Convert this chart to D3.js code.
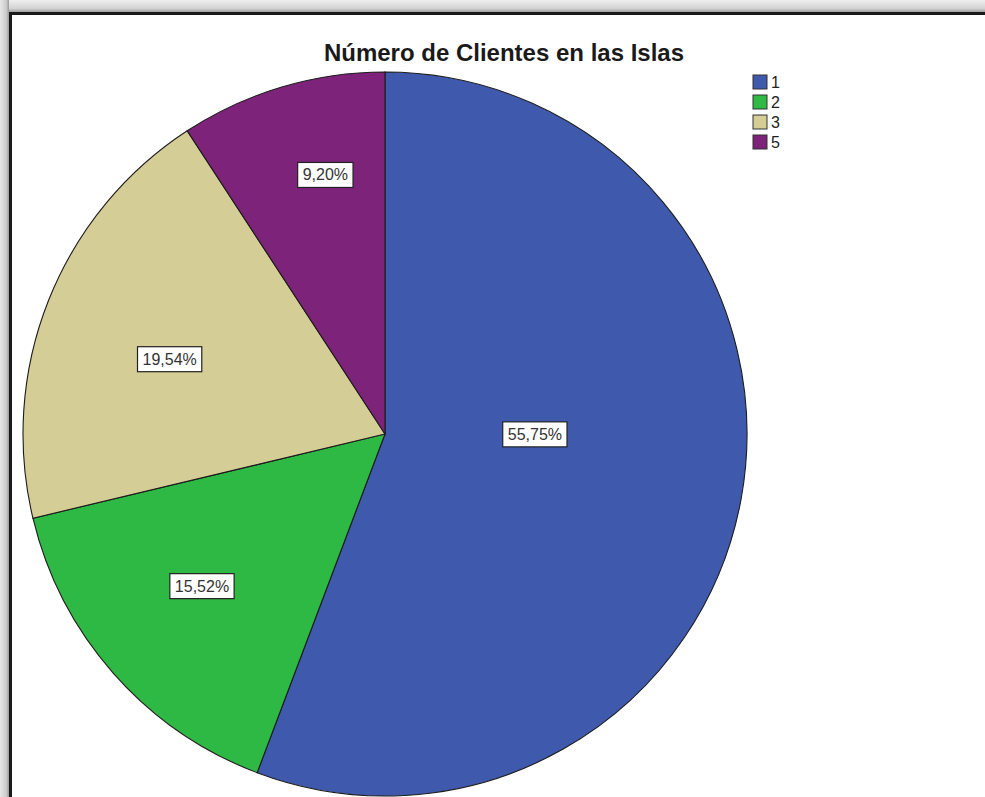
<!DOCTYPE html>
<html>
<head>
<meta charset="utf-8">
<script src="https://cdn.jsdelivr.net/npm/d3@7"></script>
<style>
  html, body { margin: 0; padding: 0; background: #ffffff; }
  svg { display: block; }
</style>
</head>
<body>
<svg id="chart" width="985" height="797"></svg>
<script>
// Share of clients by number of islands
const categories = ["1", "2", "3", "5"];
const percentages = [55.75, 15.52, 19.54, 9.20];
const sliceColors = ["#3f59ad", "#2eb844", "#d5cd96", "#7d237a"];
const chartTitle = "Número de Clientes en las Islas";

const W = 985, H = 797;
const cx = 385, cy = 434, R = 362;

// label placement inside each slice: [fraction of radius, angular shift in degrees]
const labelPlacement = [[0.414, -10.3], [0.657, 1.7], [0.63, -2.5], [0.735, 3.6]];

const svg = d3.select("#chart");
const defs = svg.append("defs");

// frame shadow
const gTop = defs.append("linearGradient").attr("id", "shTop")
  .attr("x1", 0).attr("y1", 0).attr("x2", 0).attr("y2", 1);
gTop.append("stop").attr("offset", "0%").attr("stop-color", "#efefef");
gTop.append("stop").attr("offset", "70%").attr("stop-color", "#d3d3d3");
gTop.append("stop").attr("offset", "100%").attr("stop-color", "#a0a0a0");
const gLeft = defs.append("linearGradient").attr("id", "shLeft")
  .attr("x1", 0).attr("y1", 0).attr("x2", 1).attr("y2", 0);
gLeft.append("stop").attr("offset", "0%").attr("stop-color", "#e6e6e6");
gLeft.append("stop").attr("offset", "70%").attr("stop-color", "#cccccc");
gLeft.append("stop").attr("offset", "100%").attr("stop-color", "#9a9a9a");

svg.append("rect").attr("x", 0).attr("y", 0).attr("width", W).attr("height", 12).attr("fill", "url(#shTop)");
svg.append("rect").attr("x", 0).attr("y", 0).attr("width", 9).attr("height", H).attr("fill", "url(#shLeft)");
svg.append("path")
  .attr("d", `M10.5,${H} L10.5,13.5 L${W},13.5`)
  .attr("fill", "none").attr("stroke", "#1a1a1a").attr("stroke-width", 3);

// title
svg.append("text")
  .attr("x", 504).attr("y", 61)
  .attr("text-anchor", "middle")
  .attr("font-family", "Arial, 'Liberation Sans', sans-serif")
  .attr("font-weight", "bold").attr("font-size", 24)
  .attr("fill", "#1a1a1a")
  .text(chartTitle);

// pie
const pie = d3.pie().sort(null).value(d => d.value);
const arcs = pie(categories.map((c, i) => ({ cat: c, value: percentages[i], color: sliceColors[i] })));
const arc = d3.arc().innerRadius(0).outerRadius(R);

const g = svg.append("g").attr("transform", `translate(${cx},${cy})`);
g.selectAll("path.slice").data(arcs).join("path")
  .attr("class", "slice")
  .attr("d", arc)
  .attr("fill", d => d.data.color)
  .attr("stroke", "#1c1c1c").attr("stroke-width", 1.1);

// percentage labels
const locale = d3.formatLocale({ decimal: ",", thousands: ".", grouping: [3], currency: ["", "€"] });
const fmt = locale.format(".2f");

const labels = g.selectAll("g.lbl").data(arcs).join("g").attr("class", "lbl")
  .attr("transform", (d, i) => {
    const [f, shift] = labelPlacement[i];
    const a = (d.startAngle + d.endAngle) / 2 + shift * Math.PI / 180;
    return `translate(${R * f * Math.sin(a)},${-R * f * Math.cos(a)})`;
  });
labels.each(function (d) {
  const sel = d3.select(this);
  const rect = sel.append("rect").attr("fill", "#ffffff").attr("stroke", "#222").attr("stroke-width", 1.2);
  const t = sel.append("text")
    .attr("text-anchor", "middle").attr("dy", "0.36em")
    .attr("font-family", "Arial, 'Liberation Sans', sans-serif")
    .attr("font-size", 16).attr("fill", "#333")
    .text(fmt(d.data.value) + "%");
  const bb = t.node().getBBox();
  rect.attr("x", bb.x - 5).attr("y", bb.y - 4)
    .attr("width", bb.width + 10).attr("height", bb.height + 8);
});

// legend
const legend = svg.append("g").attr("transform", "translate(753,75)");
const items = legend.selectAll("g").data(categories).join("g")
  .attr("transform", (d, i) => `translate(0,${i * 20})`);
items.append("rect").attr("width", 14).attr("height", 14)
  .attr("fill", (d, i) => sliceColors[i]).attr("stroke", "#333").attr("stroke-width", 1);
items.append("text").attr("x", 18).attr("y", 7).attr("dy", "0.36em")
  .attr("font-family", "Arial, 'Liberation Sans', sans-serif")
  .attr("font-size", 16).attr("fill", "#222")
  .text(d => d);
</script>
</body>
</html>
